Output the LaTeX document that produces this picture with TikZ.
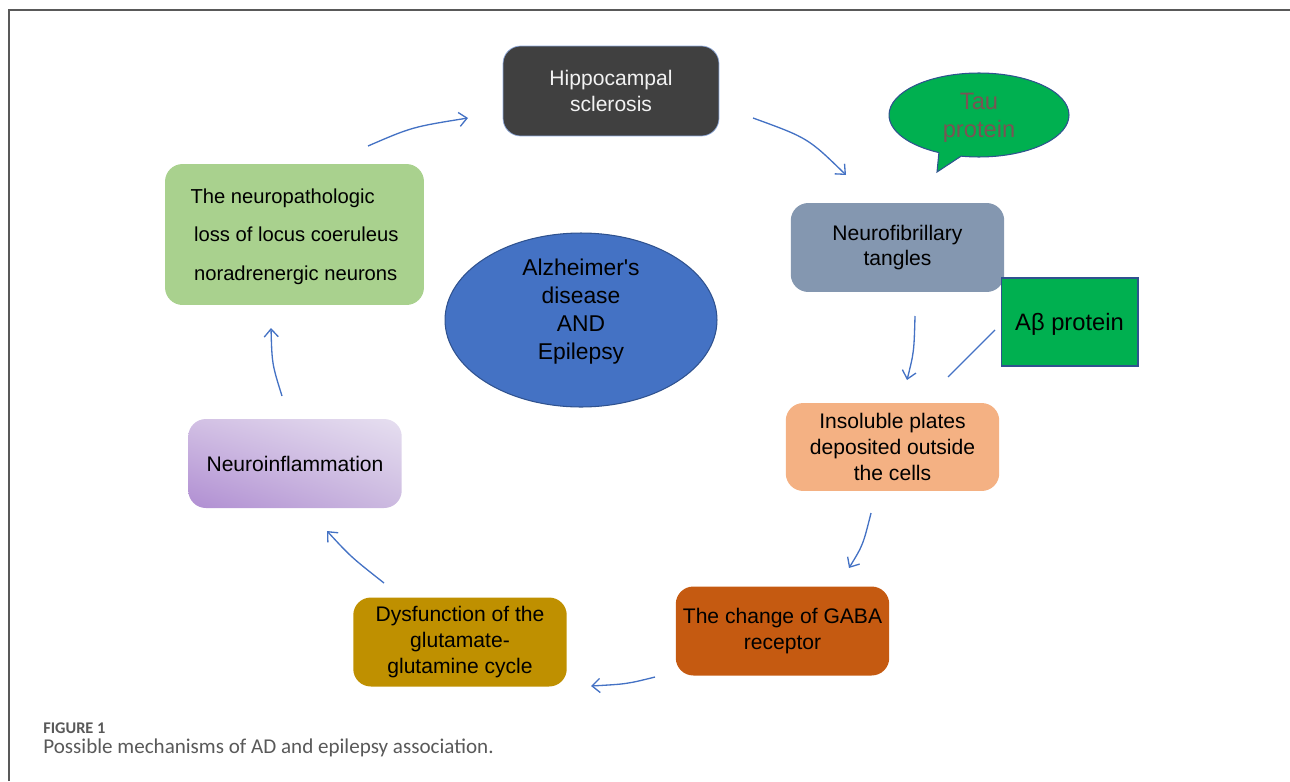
\documentclass[tikz,border=0pt]{standalone}
\usepackage{fontspec}
\setmainfont{Liberation Sans}
\newfontfamily\capfont{Carlito}
\usepackage{tikz}
\usetikzlibrary{positioning, arrows.meta, shapes.geometric, shapes.callouts, shadings}

\definecolor{hippoFill}{HTML}{404040}
\definecolor{hippoLine}{HTML}{8FAADC}
\definecolor{tangleFill}{HTML}{8497B0}
\definecolor{plateFill}{HTML}{F4B183}
\definecolor{gabaFill}{HTML}{C55A11}
\definecolor{glutaFill}{HTML}{BF9000}
\definecolor{locusFill}{HTML}{A9D18E}
\definecolor{adFill}{HTML}{4472C4}
\definecolor{darkBlue}{HTML}{2F528F}
\definecolor{protGreen}{HTML}{00B050}
\definecolor{tauText}{RGB}{122,84,84}
\definecolor{arrowBlue}{HTML}{4472C4}
\definecolor{capGray}{HTML}{595959}
\definecolor{inflamLL}{RGB}{176,142,210}
\definecolor{inflamUR}{RGB}{230,223,240}
\definecolor{inflamUL}{RGB}{210,192,228}
\definecolor{inflamLR}{RGB}{204,186,224}

\begin{document}
\begin{tikzpicture}[
    x = 0.02cm, y = -0.02cm,
    > = {Straight Barb[length=4.5pt, width=8pt]},
    flow/.style = {->, draw = arrowBlue, line width = 0.75pt},
    box/.style = {rectangle, rounded corners = 10pt, align = center,
                  minimum width = 4.27cm, minimum height = 1.78cm,
                  font = \fontsize{12}{14.7}\selectfont},
    protein/.style = {draw = darkBlue, fill = protGreen, line width = 0.6pt,
                      font = \fontsize{13.5}{16}\selectfont}
]
\useasboundingbox (0,0) rectangle (1290,781);

% Frame
\draw[capGray, line width = 0.8pt] (9,781) -- (9,10) -- (1290,10);

% Boxes
\node[box, fill = hippoFill, draw = hippoLine, text = white!95!black,
      minimum width = 4.32cm, minimum height = 1.8cm]      (hippo)   at (611,91)    {Hippocampal\\sclerosis};
\node[box, fill = tangleFill]                               (tangles) at (897.5,247.5) {Neurofibrillary\\tangles};
\node[box, fill = plateFill, minimum height = 1.76cm]       (plates)  at (892.5,447) {Insoluble plates\\deposited outside\\the cells};
\node[box, fill = gabaFill]                                 (gaba)    at (782.5,631) {The change of GABA\\receptor};
\node[box, fill = glutaFill]                                (gluta)   at (460,642) {Dysfunction of the\\glutamate-\\glutamine cycle};
\node[box, lower left = inflamLL, upper right = inflamUR,
      upper left = inflamUL, lower right = inflamLR]       (inflam)  at (295,463.5) {Neuroinflammation};
\node[box, fill = locusFill, align = left, minimum width = 5.18cm, minimum height = 2.82cm,
      text depth = 0pt, font = \fontsize{11.5}{22}\selectfont] (locus) at (294.5,234.5)
      {The neuropathologic\\\hspace*{2pt}loss of locus coeruleus\\\hspace*{2pt}noradrenergic neurons};

% Centre and proteins
\node[ellipse, draw = darkBlue, fill = adFill, line width = 0.6pt, inner sep = 0pt,
      minimum width = 5.44cm, minimum height = 3.48cm, align = center, text depth = 12pt,
      font = \fontsize{13}{16}\selectfont]                  (ad)      at (581,320)  {Alzheimer\textquotesingle s\\disease\\AND\\Epilepsy};
\node[protein, ellipse callout, callout absolute pointer = {(937,172)},
      minimum width = 3.6cm, minimum height = 1.68cm, inner sep = 0pt, text depth = -0.6pt,
      align = center, text = tauText]                       (tau)     at (979,115)  {Tau\\protein};
\node[protein, rectangle, minimum width = 2.74cm, minimum height = 1.76cm,
      text height = 13pt]                                   (abeta)   at (1069.5,322) {Aβ protein};

% Arrow ends
\coordinate (hippoIn)    at (468,118);
\coordinate (locusOut)   at (368,146);
\coordinate (hippoOut)   at (753,118);
\coordinate (tanglesIn)  at (846,175);
\coordinate (tanglesOut) at (915,316);
\coordinate (platesIn)   at (907,380);
\coordinate (abetaOut)   at (995,330);
\coordinate (abetaEnd)   at (948,377);
\coordinate (platesOut)  at (871,513);
\coordinate (gabaIn)     at (849,568);
\coordinate (gabaOut)    at (655,677);
\coordinate (glutaIn)    at (591,686);
\coordinate (glutaOut)   at (384,583);
\coordinate (inflamIn)   at (327,531);
\coordinate (inflamOut)  at (282,396);
\coordinate (locusIn)    at (271,328);

% Transitions
\draw[flow] (locusOut)   .. controls (412,127) .. (hippoIn);
\draw[flow] (hippoOut)   .. controls (808,138) .. (tanglesIn);
\draw[flow] (tanglesOut) .. controls (914,352) .. (platesIn);
\draw[draw = arrowBlue, line width = 0.75pt] (abetaOut) -- (abetaEnd);
\draw[flow] (platesOut)  .. controls (863,545) .. (gabaIn);
\draw[flow] (gabaOut)    .. controls (627,684) .. (glutaIn);
\draw[flow] (glutaOut)   .. controls (351,557) .. (inflamIn);
\draw[flow] (inflamOut)  .. controls (272,364) .. (locusIn);

% Caption
\node[anchor = north west, inner sep = 0pt, text = capGray,
      font = \capfont\bfseries\fontsize{9.3}{10}\selectfont] (figNum) at (43,722) {FIGURE 1};
\node[anchor = north west, inner sep = 0pt, text = capGray,
      font = \capfont\fontsize{12}{13}\selectfont]          (figCap)  at (43,738) {Possible mechanisms of AD and epilepsy association.};

\end{tikzpicture}
\end{document}
